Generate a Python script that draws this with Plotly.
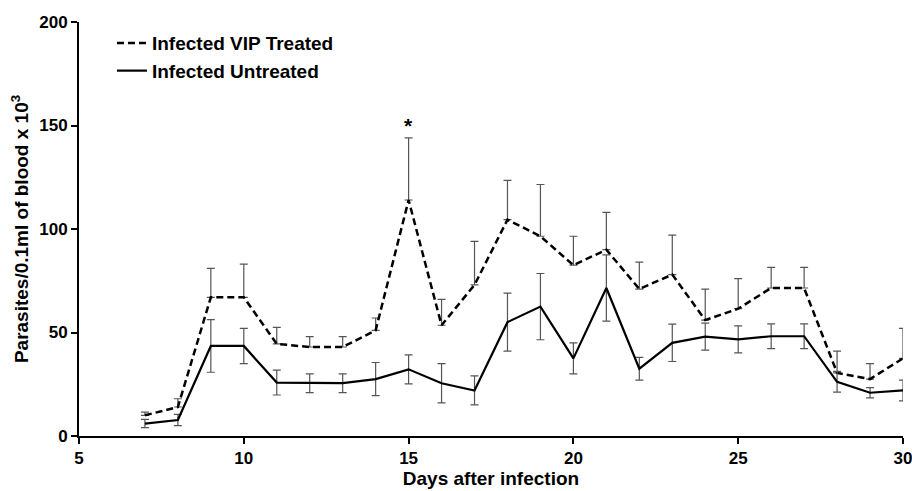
import plotly.graph_objects as go

days = [7, 8, 9, 10, 11, 12, 13, 14, 15, 16, 17, 18, 19, 20, 21, 22, 23, 24, 25, 26, 27, 28, 29, 30]

vip_treated = [10, 14, 67, 67, 44.5, 43, 43, 51, 114, 53.5, 73, 104.5, 96.5, 82.5, 90, 71, 78, 56, 61.5, 71.5, 71.5, 30.5, 27.5, 37.5]
vip_err = [1.5, 4, 14, 16, 8, 5, 5, 6, 30, 12.5, 21, 19, 25, 14, 18, 13, 19, 15, 14.5, 10, 10, 10.5, 7.5, 14.5]

untreated = [6, 7.7, 43.5, 43.5, 25.8, 25.5, 25.5, 27.5, 32.2, 25.5, 22, 55, 62.5, 37.5, 71.5, 32.5, 45, 48, 46.7, 48.2, 48.2, 26.2, 20.9, 22]
untreated_err = [2, 2.7, 12.7, 8.5, 6, 4.5, 4.5, 8, 7, 9.5, 7, 14, 16, 7.5, 16, 5.5, 9, 6.5, 6.5, 6, 6, 5, 2.5, 5]

x_ticks = [5, 10, 15, 20, 25, 30]
y_ticks = [0, 50, 100, 150, 200]

FONT = "Liberation Sans, Arial, sans-serif"

fig = go.Figure()

fig.add_trace(go.Scatter(
    x=days, y=vip_treated, mode="lines", name="<b>Infected VIP Treated</b>",
    line=dict(color="black", width=2.5, dash="7px,4px"),
    error_y=dict(type="data", symmetric=False, array=vip_err,
                 arrayminus=[0] * len(vip_err), color="#555555", thickness=1.2, width=4),
))
fig.add_trace(go.Scatter(
    x=days, y=untreated, mode="lines", name="<b>Infected Untreated</b>",
    line=dict(color="black", width=2.2),
    error_y=dict(type="data", symmetric=True, array=untreated_err,
                 color="#555555", thickness=1.2, width=4),
))

fig.add_annotation(x=15, y=150, text="<b>*</b>", showarrow=False,
                   font=dict(size=21, color="black", family=FONT), yanchor="middle")

fig.update_layout(
    width=912, height=491,
    margin=dict(l=79, r=9, t=22, b=55),
    paper_bgcolor="white", plot_bgcolor="white",
    font=dict(family=FONT, color="black"),
    showlegend=True,
    legend=dict(x=0.04, y=0.995, xanchor="left", yanchor="top",
                font=dict(size=19, family=FONT, color="black"),
                bgcolor="rgba(0,0,0,0)", itemwidth=30),
    xaxis=dict(range=[5, 30], tickvals=x_ticks, ticktext=[f"<b>{t}</b>" for t in x_ticks],
               showgrid=False, zeroline=False, showline=True, linecolor="black", linewidth=2,
               ticks="outside", ticklen=6, tickwidth=2, tickcolor="black", automargin=False,
               ticklabeloverflow="allow",
               tickfont=dict(size=17, family=FONT),
               title=dict(text="<b>Days after infection</b>", font=dict(size=19, family=FONT), standoff=2)),
    yaxis=dict(range=[0, 200], tickvals=y_ticks, ticktext=[f"<b>{t}</b>" for t in y_ticks],
               showgrid=False, zeroline=False, showline=True, linecolor="black", linewidth=2,
               ticks="outside", ticklen=6, tickwidth=2, tickcolor="black", automargin=False,
               ticklabeloverflow="allow",
               tickfont=dict(size=17, family=FONT),
               title=dict(text="<b>Parasites/0.1ml of blood x 10<sup>3</sup></b>", font=dict(size=19, family=FONT), standoff=6)),
)

fig.write_html("out.html", config={"displayModeBar": False},
               post_script="document.body.style.margin='0';document.body.style.overflow='hidden';")
